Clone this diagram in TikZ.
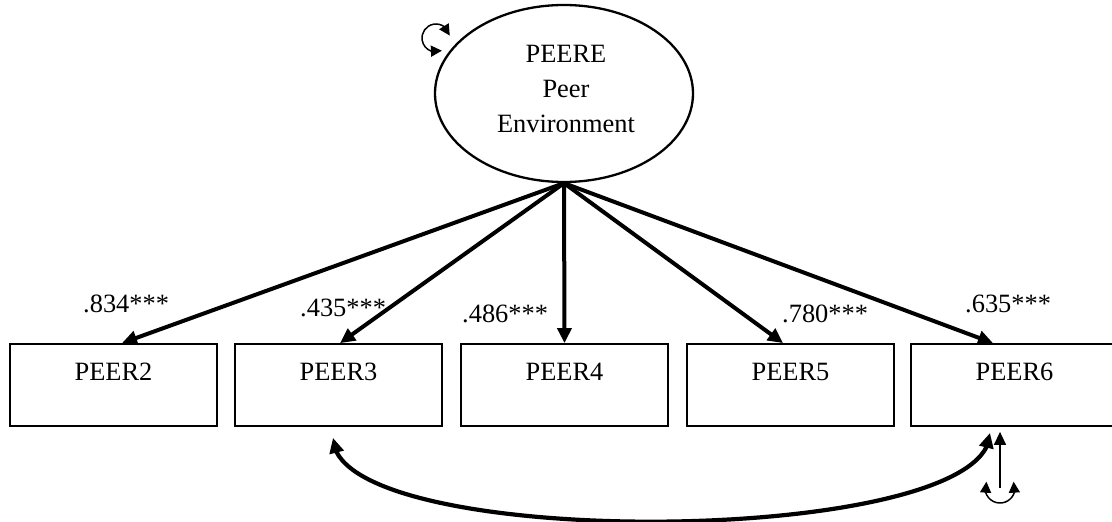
\documentclass[tikz,border=0pt]{standalone}
\usepackage{fontspec}
\setmainfont{Liberation Serif}
\usetikzlibrary{arrows.meta,bending,shapes.geometric}
\begin{document}
\begin{tikzpicture}[x=1bp,y=-1bp,
  every node/.style={font=\fontsize{26.5}{35}\selectfont},
  latent/.style={ellipse,draw,line width=2.3bp,minimum width=258bp,minimum height=177bp,inner sep=0pt},
  obs/.style={rectangle,draw,line width=1.8bp,minimum width=207bp,minimum height=82bp,
    inner sep=0pt,text height=18bp,text depth=27bp},
  bigtip/.tip={Triangle[length=15bp,width=14bp]},
  midtip/.tip={Triangle[length=13bp,width=12bp]},
  smalltip/.tip={Triangle[length=11bp,width=11bp]},
  load/.style={line width=4bp,-bigtip},
  covar/.style={line width=4.2bp,bigtip-bigtip},
  coef/.style={anchor=base west,inner sep=0pt},
  thinline/.style={line width=1.5bp}
]
\useasboundingbox (0,0) rectangle (1112,522);

% latent factor
\node[latent] (lat) at (564,93.5) {};
\node[align=center,inner sep=0pt] (latname) at (566,89) {PEERE\\Peer\\Environment};

% indicators
\node[obs] (b2) at (113.5,385) {PEER2};
\node[obs] (b3) at (338.5,385) {PEER3};
\node[obs] (b4) at (564.5,385) {PEER4};
\node[obs] (b5) at (790.5,385) {PEER5};
\node[obs] (b6) at (1014.5,385) {PEER6};

% factor loadings
\draw[load] (lat.south) -- ([xshift=8.5bp]b2.north);
\draw[load] (lat.south) -- ([xshift=1.5bp]b3.north);
\draw[load] (lat.south) -- (b4.north);
\draw[load] (lat.south) -- ([xshift=-7.5bp]b5.north);
\draw[load] (lat.south) -- ([xshift=-21.5bp]b6.north);

\node[coef] (c2) at (83,313) {.834***};
\node[coef] (c3) at (300,317) {.435***};
\node[coef] (c4) at (462,323) {.486***};
\node[coef] (c5) at (782,323) {.780***};
\node[coef] (c6) at (965,313) {.635***};

% residual covariance between PEER3 and PEER6
\draw[covar] ([xshift=-5.5bp,yshift=-11bp]b3.south)
  .. controls +(0,115) and +(0,115) .. ([xshift=-24.5bp,yshift=-6bp]b6.south);

% error term of PEER6
\coordinate (e6) at (1000,488);
\draw[thinline,-midtip,shorten >=5bp] (e6) -- (e6 |- b6.south);
\draw[thinline,smalltip-smalltip] (e6) ++(205:15) arc[start angle=205,end angle=-25,radius=15];

% variance of the latent factor
\coordinate (e0) at (436,38);
\draw[thinline,smalltip-smalltip] (e0) ++(-10:14) arc[start angle=-10,end angle=-295,radius=14];
\end{tikzpicture}
\end{document}
